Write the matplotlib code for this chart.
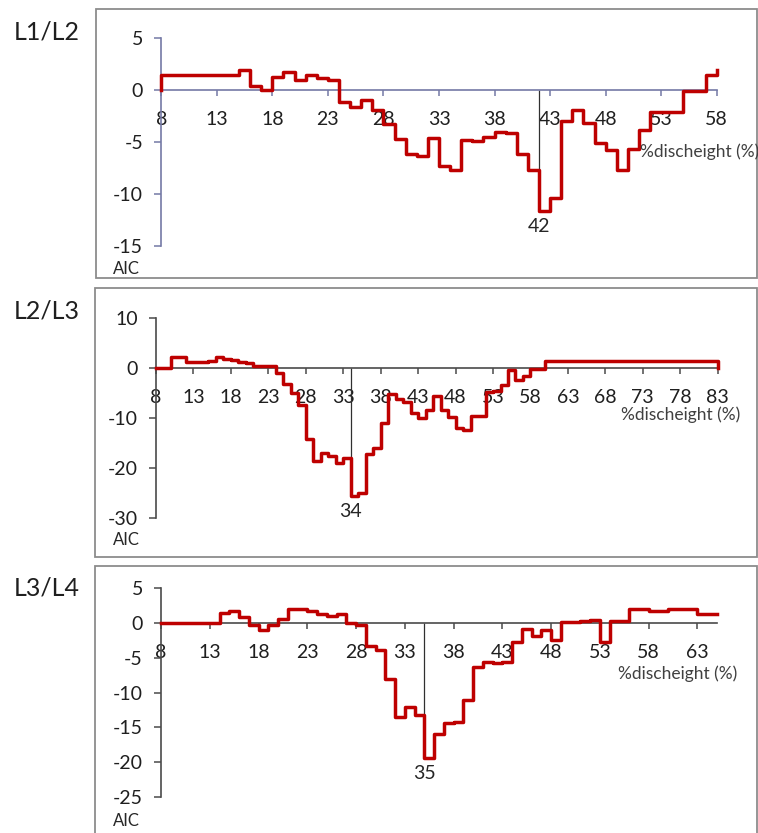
import numpy as np
import matplotlib.pyplot as plt
from matplotlib.patches import Rectangle

plt.rcParams['font.family'] = ['Lato', 'DejaVu Sans']
plt.rcParams['axes.unicode_minus'] = False

W, H = 758, 833

# AIC difference per %discheight, one value per integer position starting at 8
aic_l1l2 = [1.4, 1.4, 1.4, 1.4, 1.4, 1.4, 1.4, 1.9, 0.4, 0.0,
            1.25, 1.75, 1.0, 1.4, 1.2, 0.95, -1.2, -1.6, -0.95, -1.9,
            -3.3, -4.7, -6.2, -6.3, -4.6, -7.3, -7.65, -4.8, -4.9, -4.5,
            -4.0, -4.15, -6.2, -7.65, -11.6, -10.4, -3.0, -1.9, -3.2, -5.1,
            -5.8, -7.65, -5.7, -3.8, -2.1, -2.1, -2.1, -0.1, -0.1, 1.45,
            1.9]
aic_l2l3 = [0, 0, 2.2, 2.2, 1.2, 1.2, 1.2, 1.4, 2.2, 1.9,
            1.6, 1.3, 1.1, 0.5, 0.5, 0.4, -1.0, -3.2, -5.0, -7.3,
            -14.3, -18.7, -17.0, -17.7, -19.0, -18.0, -25.7, -25.0, -17.2, -16.0,
            -11.0, -5.2, -6.1, -6.7, -9.0, -9.9, -8.3, -5.6, -8.3, -9.7,
            -12.1, -12.5, -9.6, -9.6, -4.8, -4.6, -3.3, -0.3, -2.3, -1.6,
            -0.1, -0.1] + [1.4] * 23 + [0]
aic_l3l4 = [0, 0, 0, 0, 0, 0, 1.4, 1.8, 0.8, -0.3,
            -1.05, -0.3, 0.6, 2.0, 2.0, 1.8, 1.25, 1.0, 1.35, 0.0,
            -0.3, -3.3, -3.85, -8.0, -13.5, -12.1, -13.3, -19.45, -16.0, -14.35,
            -14.3, -11.1, -6.3, -5.65, -5.75, -5.6, -2.7, -0.8, -1.8, -1.05,
            -2.5, 0.15, 0.15, 0.3, 0.5, -2.7, 0.3, 0.3, 2.0, 2.0,
            1.7, 1.7, 2.0, 2.0, 2.0, 1.35, 1.35, 1.35]

series = [aic_l1l2, aic_l2l3, aic_l3l4]
names = ['L1/L2', 'L2/L3', 'L3/L4']
best_split = [42, 34, 35]
yticks = [[5, 0, -5, -10, -15],
          [10, 0, -10, -20, -30],
          [5, 0, -5, -10, -15, -20, -25]]

# layout in pixels: axes (left, top, right, bottom), frame box, text spots
ax_px = [(161.3, 38, 716.7, 246), (156, 318.3, 717.7, 517.7), (161, 588.3, 717, 796.7)]
box_px = [(96, 9, 757, 278), (95, 288, 757, 557), (95, 566, 757, 840)]
name_y = [32, 311, 588]
aic_y = [269, 540, 821]
xlab_pos = [(640, 152), (621, 415), (618, 674)]
axis_col = ['#7479a6', '#4a4a4a', '#4a4a4a']

fig = plt.figure(figsize=(W / 100, H / 100), dpi=100)

for i in range(3):
    l, t, r, b = ax_px[i]
    ax = fig.add_axes([l / W, 1 - b / H, (r - l) / W, (b - t) / H])
    y = np.array(series[i])
    x = np.arange(8, 8 + len(y))

    # curve starts from the zero line
    ax.step(np.r_[x[0], x], np.r_[0, y], where='post', color='#be0000',
            lw=2.5, clip_on=False, zorder=3)

    m = best_split[i]
    ymin = y[x == m][0]
    ax.vlines(m, ymin, 0, color='#303030', lw=0.9, zorder=2)
    ax.annotate(str(m), xy=(m, ymin), xytext=(0, -5), textcoords='offset points',
                ha='center', va='top', fontsize=14, color='#262626')

    ax.set_xlim(x[0], x[-1])
    ax.set_ylim(min(yticks[i]), max(yticks[i]))
    ax.set_xticks(np.arange(8, x[-1] + 1, 5))
    ax.set_yticks(yticks[i])

    ax.spines['top'].set_visible(False)
    ax.spines['right'].set_visible(False)
    ax.spines['bottom'].set_position(('data', 0))
    for s in ['left', 'bottom']:
        ax.spines[s].set_color(axis_col[i])
        ax.spines[s].set_linewidth(1.2)
    ax.tick_params(axis='x', direction='out', length=4.5, width=1.1,
                   color=axis_col[i], pad=10.5, labelsize=14, labelcolor='#1f1f1f')
    ax.tick_params(axis='y', direction='out', length=5, width=1.1,
                   color=axis_col[i], pad=8, labelsize=14, labelcolor='#1f1f1f')
    ax.patch.set_visible(False)

    bl, bt, br, bb = box_px[i]
    fig.patches.append(Rectangle((bl / W, 1 - bb / H), (br - bl) / W, (bb - bt) / H,
                                 transform=fig.transFigure, fill=False,
                                 edgecolor='#8c8c8c', lw=1.3))

    fig.text(14 / W, 1 - name_y[i] / H, names[i], fontsize=18,
             ha='left', va='center', color='#1f1f1f')
    fig.text(113 / W, 1 - aic_y[i] / H, 'AIC', fontsize=12,
             ha='left', va='center', color='#262626')
    fig.text(xlab_pos[i][0] / W, 1 - xlab_pos[i][1] / H, '%discheight (%)',
             fontsize=12.5, ha='left', va='center', color='#404040')

fig.savefig('out.png', dpi=100)
